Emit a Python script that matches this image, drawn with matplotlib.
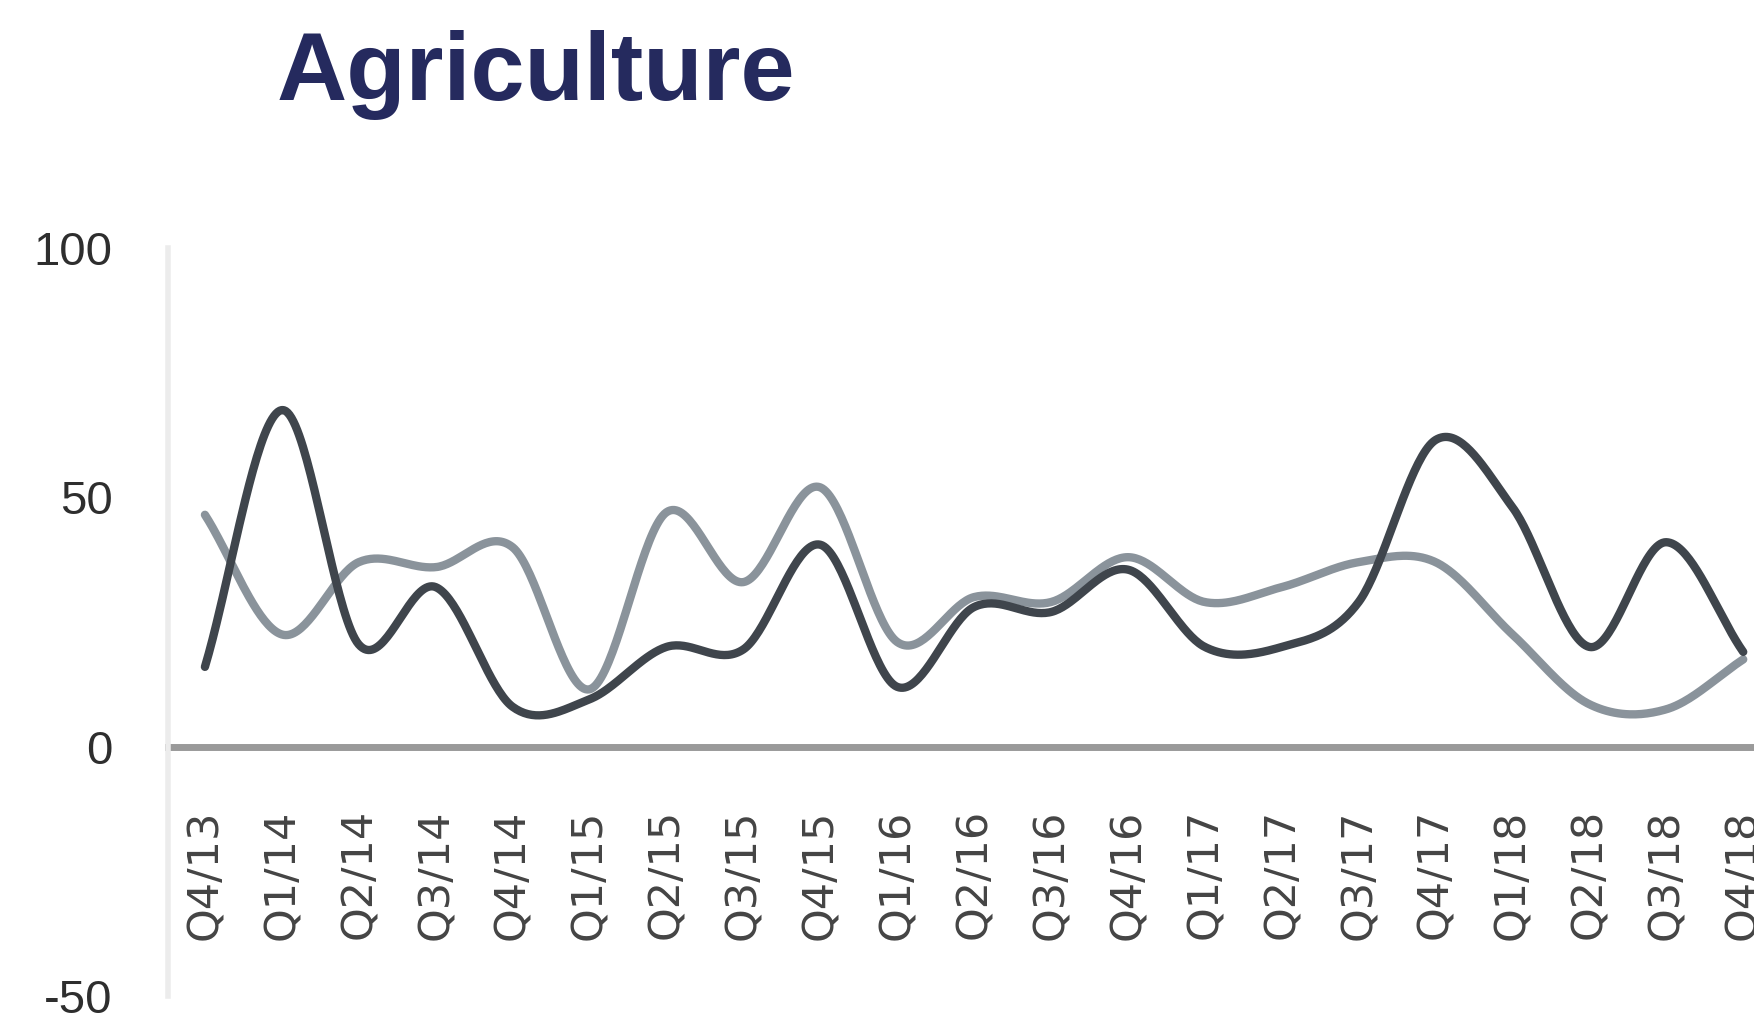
import numpy as np
import matplotlib
matplotlib.use("Agg")
import matplotlib.pyplot as plt

quarters = ["Q4/13", "Q1/14", "Q2/14", "Q3/14", "Q4/14", "Q1/15", "Q2/15",
            "Q3/15", "Q4/15", "Q1/16", "Q2/16", "Q3/16", "Q4/16", "Q1/17",
            "Q2/17", "Q3/17", "Q4/17", "Q1/18", "Q2/18", "Q3/18", "Q4/18"]

dark_series = [16, 67.5, 20.5, 32, 8, 9.5, 20, 19.5, 40.5, 12, 28, 27,
               35.5, 20, 20, 29, 61.5, 48, 20, 41, 19]
light_series = [46.5, 22.5, 37, 36, 40, 11.5, 47, 33, 52, 21, 30, 29,
                38, 29, 32, 37, 37, 22.5, 8.5, 7.5, 17.5]

y_ticks = [-50, 0, 50, 100]
y_labels = ["-50", "0", "50", "100"]


def smooth(x, y, n=40):
    """Catmull-Rom curve through the points (like a spreadsheet 'smoothed line')."""
    x = np.asarray(x, float)
    y = np.asarray(y, float)
    px = np.concatenate([[2 * x[0] - x[1]], x, [2 * x[-1] - x[-2]]])
    py = np.concatenate([[2 * y[0] - y[1]], y, [2 * y[-1] - y[-2]]])
    t = np.linspace(0, 1, n, endpoint=False)[:, None]
    out_x, out_y = [], []
    for i in range(1, len(px) - 2):
        for p, out in ((px, out_x), (py, out_y)):
            p0, p1, p2, p3 = p[i - 1], p[i], p[i + 1], p[i + 2]
            seg = 0.5 * ((2 * p1) + (-p0 + p2) * t
                         + (2 * p0 - 5 * p1 + 4 * p2 - p3) * t ** 2
                         + (-p0 + 3 * p1 - 3 * p2 + p3) * t ** 3)
            out.append(seg.ravel())
    out_x.append([x[-1]])
    out_y.append([y[-1]])
    return np.concatenate(out_x), np.concatenate(out_y)


W, H = 1754, 1028
fig = plt.figure(figsize=(W / 100, H / 100), dpi=100)
fig.patch.set_facecolor("white")

ax = fig.add_axes([168 / W, 32 / H, (W - 168) / W, 748 / H])
ax.set_xlim(-0.48, 20.14)
ax.set_ylim(-50, 100)

xs = np.arange(len(quarters))
lx, ly = smooth(xs, light_series)
dx, dy = smooth(xs, dark_series)
ax.plot(lx, ly, color="#8a939b", lw=6, solid_capstyle="round", zorder=3)
ax.plot(dx, dy, color="#3f454c", lw=6, solid_capstyle="round", zorder=4)

# zero line doubles as the category axis
for s in ["top", "right"]:
    ax.spines[s].set_visible(False)
ax.spines["bottom"].set_position(("data", 0))
ax.spines["bottom"].set_color("#9a9a9a")
ax.spines["bottom"].set_linewidth(5)
ax.spines["bottom"].set_zorder(2)
ax.spines["left"].set_color("#ececec")
ax.spines["left"].set_linewidth(4)

ax.set_yticks(y_ticks)
ax.set_yticklabels(y_labels, fontsize=34, family="Liberation Sans", color="#2e2e2e")
ax.tick_params(axis="y", length=0, pad=40)

ax.set_xticks(xs)
ax.set_xticklabels(quarters, rotation=90, fontsize=31, family="DejaVu Sans",
                   color="#444444", va="top")
ax.tick_params(axis="x", length=0, pad=45)

fig.text(277 / W, 1 - 100 / H, "Agriculture", fontsize=70, fontweight="bold",
         family="Liberation Sans", color="#252a5e", va="baseline", ha="left")

fig.savefig("out.png", dpi=100, facecolor="white")
